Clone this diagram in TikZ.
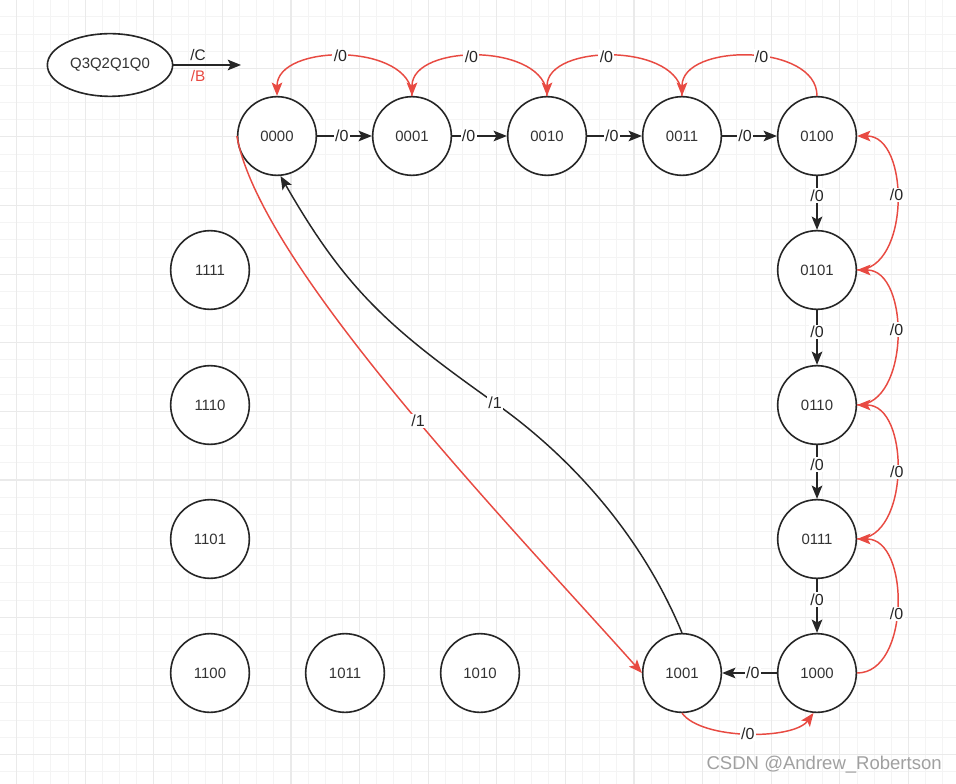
\documentclass[tikz,border=0pt]{standalone}
\usepackage{fontspec}
\setmainfont{Liberation Sans}
\usetikzlibrary{shapes.geometric,arrows.meta}
\definecolor{edgered}{RGB}{232,74,66}
\definecolor{ink}{RGB}{38,38,38}
\definecolor{txt}{RGB}{51,51,51}
\definecolor{gridminor}{RGB}{244,244,244}
\definecolor{gridmajor}{RGB}{234,234,234}
\definecolor{wm}{RGB}{160,160,160}
\begin{document}
\begin{tikzpicture}[x=0.75pt,y=-0.75pt,
  state/.style={circle,draw=ink,line width=1.2pt,minimum size=59pt,inner sep=0pt,fill=white,
    font=\fontsize{11.2}{13}\selectfont,text=txt},
  tipped/.style={-{Stealth[length=10pt,width=8pt,inset=2.2pt]}},
  blk/.style={draw=ink,line width=1.1pt,tipped},
  redl/.style={draw=edgered,line width=1.1pt,tipped},
  lab/.style={fill=white,inner sep=1pt,font=\fontsize{12}{14}\selectfont,text=ink},
  gminor/.style={draw=gridminor,line width=0.6pt},
  gmajor/.style={draw=gridmajor,line width=0.9pt}
]
\fill[white] (0,0) rectangle (956,784);
\useasboundingbox (0,0) rectangle (956,784);
% grid
\foreach \i in {0,...,56} \draw[gminor] ({\i*17.15-0.6},0) -- ({\i*17.15-0.6},784);
\foreach \i in {0,...,46} \draw[gminor] (0,{\i*17.15-0.3}) -- (956,{\i*17.15-0.3});
\foreach \i in {0,...,13} \draw[gmajor] ({16.5+\i*68.6},0) -- ({16.5+\i*68.6},784);
\foreach \i in {0,...,11} \draw[gmajor] (0,{\i*68.6-0.3}) -- (956,{\i*68.6-0.3});

% legend
\node[ellipse,draw=ink,line width=1.2pt,minimum width=89pt,minimum height=47pt,fill=white,
  font=\fontsize{11.2}{13}\selectfont,text=txt] (legend) at (110,65) {Q3Q2Q1Q0};
\coordinate (legendend) at (241,65);
\draw[blk] (legend.east) -- (legendend);
\node[font=\fontsize{11.5}{13}\selectfont,text=ink,inner sep=0pt] (lc) at (198,55) {/C};
\node[font=\fontsize{11.5}{13}\selectfont,text=edgered,inner sep=0pt] (lb) at (198,76) {/B};

% states
\node[state] (n0000) at (277,136) {0000};
\node[state] (n0001) at (412,136) {0001};
\node[state] (n0010) at (547,136) {0010};
\node[state] (n0011) at (682,136) {0011};
\node[state] (n0100) at (817,136) {0100};
\node[state] (n0101) at (817,270) {0101};
\node[state] (n0110) at (817,405) {0110};
\node[state] (n0111) at (817,539) {0111};
\node[state] (n1000) at (817,673) {1000};
\node[state] (n1001) at (682,673) {1001};
\node[state] (n1010) at (480,673) {1010};
\node[state] (n1011) at (345,673) {1011};
\node[state] (n1100) at (210,673) {1100};
\node[state] (n1101) at (210,539) {1101};
\node[state] (n1110) at (210,405) {1110};
\node[state] (n1111) at (210,270) {1111};

% black straight arrows
\draw[blk] (n0000) -- node[lab,pos=0.45]{/0} (n0001);
\draw[blk] (n0001) -- node[lab,pos=0.3]{/0} (n0010);
\draw[blk] (n0010) -- node[lab,pos=0.45]{/0} (n0011);
\draw[blk] (n0011) -- node[lab,pos=0.42]{/0} (n0100);
\draw[blk] (n0100) -- node[lab,pos=0.36]{/0} (n0101);
\draw[blk] (n0101) -- node[lab,pos=0.4]{/0} (n0110);
\draw[blk] (n0110) -- node[lab,pos=0.36]{/0} (n0111);
\draw[blk] (n0111) -- node[lab,pos=0.38]{/0} (n1000);
\draw[blk] (n1000) -- node[lab,pos=0.44]{/0} (n1001);

% red arcs on top
\draw[redl] (n0001.north) .. controls +(0,-53) and +(0,-53) .. node[lab,pos=0.52]{/0} (n0000.north);
\draw[redl] (n0010.north) .. controls +(0,-53) and +(0,-53) .. node[lab,pos=0.54]{/0} (n0001.north);
\draw[redl] (n0011.north) .. controls +(0,-53) and +(0,-53) .. node[lab,pos=0.54]{/0} (n0010.north);
\draw[redl] (n0100.north) .. controls +(0,-53) and +(0,-53) .. node[lab,pos=0.44]{/0} (n0011.north);

% red arcs on right
\draw[redl] (n0101.east) .. controls +(53,0) and +(53,0) .. node[lab,pos=0.54]{/0} (n0100.east);
\draw[redl] (n0110.east) .. controls +(53,0) and +(53,0) .. node[lab,pos=0.54]{/0} (n0101.east);
\draw[redl] (n0111.east) .. controls +(53,0) and +(53,0) .. node[lab,pos=0.5]{/0} (n0110.east);
\draw[redl] (n1000.east) .. controls +(53,0) and +(53,0) .. node[lab,pos=0.46]{/0} (n0111.east);

% red arc at bottom
\draw[redl] (n1001.-90) .. controls +(20,27) and +(-20,27) .. node[lab,pos=0.5]{/0} (n1000.-95);

% red /1
\draw[redl] (n0000.west) .. controls (260,266) and (509,524) .. node[lab,pos=0.54]{/1} (n1001.west);

% black /1
\coordinate (m1) at (495,403);
\draw[blk] (n1001.north) .. controls (644,541) and (577,461) .. (m1)
  .. controls (389,328) and (346,290) .. (n0000.-85);
\node[lab] (l1) at (m1) {/1};

% watermark
\node[font=\fontsize{13.9}{16}\selectfont,text=wm,anchor=east,inner sep=0pt] (wmark) at (942,765) {CSDN @Andrew\_Robertson};
\end{tikzpicture}
\end{document}
